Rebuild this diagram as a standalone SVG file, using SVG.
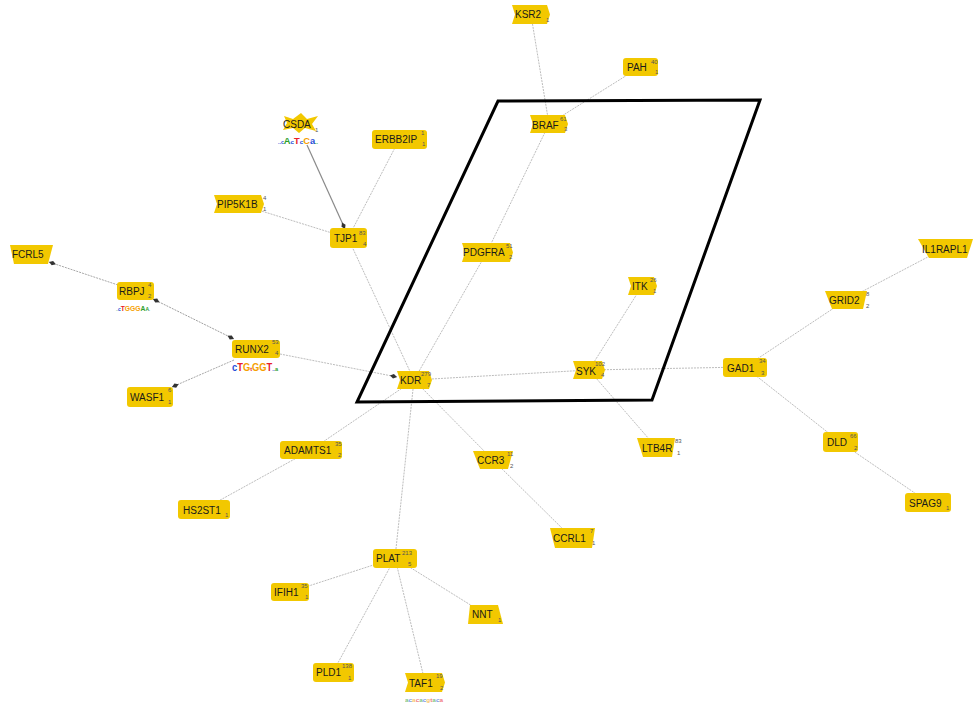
<svg xmlns="http://www.w3.org/2000/svg" width="973" height="705" viewBox="0 0 973 705">
<defs>
<style>
.n{fill:#f2c800;}
.l{font-family:"Liberation Sans",Arial,sans-serif;font-size:10px;fill:#1a1a1a;}
.s{font-family:"Liberation Sans",Arial,sans-serif;font-size:6px;fill:#555;}
.e{stroke:#bdbdbd;stroke-width:1;stroke-dasharray:2 1;fill:none;}
.d{stroke:#8a8a8a;stroke-width:1.2;fill:none;}
.lg{font-family:"Liberation Sans",Arial,sans-serif;font-weight:bold;}
.A{fill:#2ca02c;}.C{fill:#1f4fd8;}.G{fill:#f5a000;}.T{fill:#e8202a;}
</style>
<marker id="dm" viewBox="0 -3 10 6" refX="9" refY="0" markerWidth="9" markerHeight="6" markerUnits="userSpaceOnUse" orient="auto-start-reverse">
<path d="M1,0 L5,-2.5 L9,0 L5,2.5 Z" fill="#333"/>
</marker>
</defs>
<rect width="973" height="705" fill="#fff"/>
<g id="edges">
<line class="e" x1="531" y1="15" x2="549" y2="124"/>
<line class="e" x1="640" y1="67" x2="549" y2="124"/>
<line class="e" x1="549" y1="124" x2="487" y2="252"/>
<line class="e" x1="487" y1="252" x2="414" y2="380"/>
<line class="e" x1="399" y1="140" x2="348" y2="238"/>
<line class="e" x1="239" y1="204" x2="348" y2="238"/>
<line class="e" x1="348" y1="238" x2="414" y2="380"/>
<line class="e" x1="414" y1="380" x2="589" y2="370"/>
<line class="e" x1="589" y1="370" x2="745" y2="367"/>
<line class="e" x1="642" y1="286" x2="589" y2="370"/>
<line class="e" x1="589" y1="370" x2="656" y2="447"/>
<line class="e" x1="745" y1="367" x2="846" y2="300"/>
<line class="e" x1="846" y1="300" x2="945" y2="248"/>
<line class="e" x1="745" y1="367" x2="840" y2="442"/>
<line class="e" x1="840" y1="442" x2="928" y2="502"/>
<line class="e" x1="414" y1="380" x2="493" y2="460"/>
<line class="e" x1="493" y1="460" x2="572" y2="538"/>
<line class="e" x1="414" y1="380" x2="311" y2="450"/>
<line class="e" x1="311" y1="450" x2="204" y2="509"/>
<line class="e" x1="414" y1="380" x2="395" y2="558"/>
<line class="e" x1="395" y1="558" x2="290" y2="592"/>
<line class="e" x1="395" y1="558" x2="333" y2="672"/>
<line class="e" x1="395" y1="558" x2="425" y2="682"/>
<line class="e" x1="395" y1="558" x2="485" y2="614"/>
<line class="d" x1="307" y1="145" x2="345" y2="229" marker-end="url(#dm)"/>
<line class="e" x1="118" y1="285" x2="49" y2="262" marker-end="url(#dm)" style="stroke:#a8a8a8"/>
<line class="e" x1="153" y1="299" x2="234" y2="339" marker-start="url(#dm)" marker-end="url(#dm)" style="stroke:#a0a0a0"/>
<line class="e" x1="234" y1="360" x2="172" y2="387" marker-end="url(#dm)" style="stroke:#a8a8a8"/>
<line class="e" x1="280" y1="354" x2="397" y2="377" marker-end="url(#dm)"/>
</g>
<g id="region">
<path d="M498,101 L760,100 L652,400 L357,402 Z" fill="none" stroke="#000" stroke-width="3" stroke-linejoin="miter"/>
</g>
<g id="KSR2"><path class="n" d="M512,5 H547 L550,14.5 L547,24 H512 L515,14.5 Z"/><text class="l" x="515" y="18">KSR2</text><text class="s" x="546" y="22">1</text></g>
<g id="PAH"><rect class="n" x="623" y="58" width="35" height="18" rx="3"/><text class="l" x="627" y="71">PAH</text><text class="s" x="651" y="64">40</text><text class="s" x="655" y="74">1</text></g>
<g id="BRAF"><path class="n" d="M530,115 H565 L568,124 L565,133 H530 L533,124 Z"/><text class="l" x="532" y="129">BRAF</text><text class="s" x="560" y="121">61</text><text class="s" x="564" y="131">3</text></g>
<g id="CSDA"><polygon class="n" points="284,116 293,119 301,113 307,119 318,116 312,124 316,131 305,128 299,133 293,128 283,130 287,123"/><text class="l" x="283" y="128">CSDA</text><text class="s" x="315" y="132">1</text>
<text class="lg" x="278" y="144" font-size="9" textLength="40" lengthAdjust="spacingAndGlyphs"><tspan class="C" font-size="5">..c</tspan><tspan class="A">A</tspan><tspan class="C" font-size="6">c</tspan><tspan class="T">T</tspan><tspan class="C" font-size="6">c</tspan><tspan class="G">C</tspan><tspan class="C">a</tspan><tspan class="A" font-size="5">..</tspan></text></g>
<g id="ERBB2IP"><rect class="n" x="372" y="130" width="55" height="19" rx="3"/><text class="l" x="375" y="143">ERBB2IP</text><text class="s" x="421" y="135">1</text><text class="s" x="422" y="146">1</text></g>
<g id="PIP5K1B"><path class="n" d="M214,195 H261 L264,204 L261,213 H214 L217,204 Z"/><text class="l" x="217" y="208">PIP5K1B</text><text class="s" x="263" y="200">4</text><text class="s" x="263" y="211">1</text></g>
<g id="TJP1"><rect class="n" x="330" y="228" width="37" height="20" rx="3"/><text class="l" x="334" y="242">TJP1</text><text class="s" x="359" y="235">83</text><text class="s" x="363" y="246">4</text></g>
<g id="FCRL5"><path class="n" d="M10,245 H53 L48,264 H14 Z"/><text class="l" x="12" y="258">FCRL5</text></g>
<g id="RBPJ"><rect class="n" x="117" y="282" width="37" height="18" rx="3"/><text class="l" x="119" y="295">RBPJ</text><text class="s" x="148" y="287">4</text><text class="s" x="148" y="298">2</text>
<text class="lg" x="116" y="311" font-size="8" textLength="34" lengthAdjust="spacingAndGlyphs"><tspan class="A" font-size="4">..</tspan><tspan class="C" font-size="6">c</tspan><tspan class="T">T</tspan><tspan class="G">G</tspan><tspan class="G">G</tspan><tspan class="G">G</tspan><tspan class="A">A</tspan><tspan class="A" font-size="6">A</tspan><tspan class="C" font-size="4">.</tspan></text></g>
<g id="RUNX2"><rect class="n" x="232" y="340" width="48" height="18" rx="3"/><text class="l" x="235" y="353">RUNX2</text><text class="s" x="272" y="344">53</text><text class="s" x="275" y="355">4</text>
<text class="lg" x="232" y="371" font-size="10" textLength="46" lengthAdjust="spacingAndGlyphs"><tspan class="C">c</tspan><tspan class="T">T</tspan><tspan class="G">G</tspan><tspan class="T" font-size="6">t</tspan><tspan class="G">GG</tspan><tspan class="T">T</tspan><tspan class="C" font-size="5">..</tspan><tspan class="A" font-size="6">a</tspan></text></g>
<g id="WASF1"><rect class="n" x="127" y="387" width="46" height="20" rx="3"/><text class="l" x="130" y="401">WASF1</text><text class="s" x="168" y="392">6</text><text class="s" x="168" y="404">1</text></g>
<g id="KDR"><path class="n" d="M397,371 H429 L432,380 L429,389 H397 L400,380 Z"/><text class="l" x="400" y="384">KDR</text><text class="s" x="421" y="376">279</text><text class="s" x="427" y="387">7</text></g>
<g id="PDGFRA"><path class="n" d="M462,243 H510 L513,252.5 L510,262 H462 L465,252.5 Z"/><text class="l" x="463" y="256">PDGFRA</text><text class="s" x="506" y="248">51</text><text class="s" x="509" y="259">2</text></g>
<g id="ITK"><path class="n" d="M628,277 H654 L657,286 L654,295 H628 L631,286 Z"/><text class="l" x="632" y="290">ITK</text><text class="s" x="650" y="282">26</text><text class="s" x="653" y="293">1</text></g>
<g id="SYK"><path class="n" d="M573,361 H602 L605,370 L602,379 H573 L576,370 Z"/><text class="l" x="576" y="375">SYK</text><text class="s" x="595" y="366">102</text><text class="s" x="601" y="377">4</text></g>
<g id="GAD1"><rect class="n" x="723" y="358" width="44" height="19" rx="3"/><text class="l" x="727" y="372">GAD1</text><text class="s" x="759" y="363">34</text><text class="s" x="761" y="375">3</text></g>
<g id="GRID2"><path class="n" d="M825,291 H867 L863,309 H832 Z"/><text class="l" x="829" y="304">GRID2</text><text class="s" x="866" y="296">8</text><text class="s" x="866" y="308">2</text></g>
<g id="IL1RAPL1"><path class="n" d="M918,239 H973 L967,258 H929 Z"/><text class="l" x="922" y="253">IL1RAPL1</text></g>
<g id="DLD"><rect class="n" x="823" y="432" width="35" height="20" rx="3"/><text class="l" x="827" y="446">DLD</text><text class="s" x="850" y="438">66</text><text class="s" x="854" y="450">2</text></g>
<g id="SPAG9"><rect class="n" x="905" y="493" width="46" height="19" rx="3"/><text class="l" x="909" y="507">SPAG9</text><text class="s" x="946" y="510">1</text></g>
<g id="LTB4R"><path class="n" d="M637,438 H675 L672,457 H643 Z"/><text class="l" x="642" y="452">LTB4R</text><text class="s" x="675" y="443">83</text><text class="s" x="677" y="455">1</text></g>
<g id="CCR3"><path class="n" d="M473,451 H513 L508,469 H480 Z"/><text class="l" x="477" y="464">CCR3</text><text class="s" x="507" y="456">11</text><text class="s" x="510" y="468">2</text></g>
<g id="CCRL1"><path class="n" d="M550,528 H595 L592,548 H555 Z"/><text class="l" x="553" y="542">CCRL1</text><text class="s" x="590" y="533">7</text><text class="s" x="592" y="545">1</text></g>
<g id="ADAMTS1"><rect class="n" x="280" y="441" width="62" height="18" rx="3"/><text class="l" x="284" y="454">ADAMTS1</text><text class="s" x="335" y="446">35</text><text class="s" x="338" y="457">2</text></g>
<g id="HS2ST1"><rect class="n" x="178" y="500" width="52" height="19" rx="3"/><text class="l" x="183" y="514">HS2ST1</text><text class="s" x="225" y="517">1</text></g>
<g id="PLAT"><rect class="n" x="373" y="549" width="44" height="19" rx="3"/><text class="l" x="376" y="562">PLAT</text><text class="s" x="402" y="555">213</text><text class="s" x="408" y="566">5</text></g>
<g id="IFIH1"><rect class="n" x="271" y="583" width="38" height="18" rx="3"/><text class="l" x="274" y="596">IFIH1</text><text class="s" x="301" y="588">35</text><text class="s" x="305" y="599">1</text></g>
<g id="NNT"><path class="n" d="M470,605 H498 L503,624 H468 Z"/><text class="l" x="472" y="618">NNT</text><text class="s" x="498" y="622">1</text></g>
<g id="PLD1"><rect class="n" x="313" y="663" width="41" height="19" rx="3"/><text class="l" x="316" y="676">PLD1</text><text class="s" x="342" y="668">138</text><text class="s" x="348" y="680">1</text></g>
<g id="TAF1"><path class="n" d="M405,673 H442 L445,682.5 L442,692 H405 L408,682.5 Z"/><text class="l" x="409" y="687">TAF1</text><text class="s" x="436" y="678">19</text><text class="s" x="440" y="690">2</text>
<text class="lg" x="405" y="702" font-size="6" textLength="38" lengthAdjust="spacingAndGlyphs" opacity="0.6"><tspan class="A">a</tspan><tspan class="C">c</tspan><tspan class="G">a</tspan><tspan class="T">c</tspan><tspan class="A">a</tspan><tspan class="C">c</tspan><tspan class="G">g</tspan><tspan class="T">t</tspan><tspan class="A">a</tspan><tspan class="C">c</tspan><tspan class="T">a</tspan></text></g>
</svg>
